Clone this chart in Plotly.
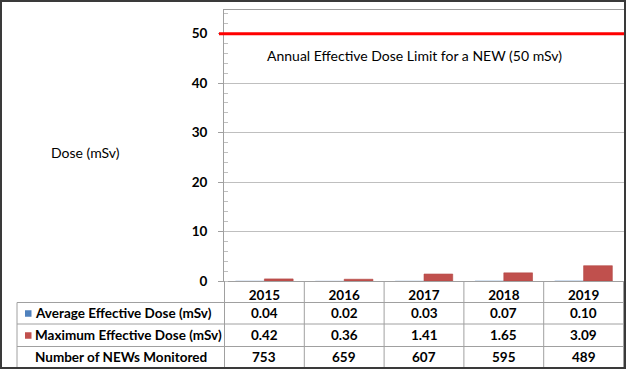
import plotly.graph_objects as go

years = ["2015", "2016", "2017", "2018", "2019"]
avg_dose = [0.04, 0.02, 0.03, 0.07, 0.10]
max_dose = [0.42, 0.36, 1.41, 1.65, 3.09]
news_monitored = [753, 659, 607, 595, 489]
dose_limit = 50
limit_label = "Annual Effective Dose Limit for a NEW (50 mSv)"
row_labels = ["Average Effective Dose (mSv)", "Maximum Effective Dose (mSv)", "Number of NEWs Monitored"]

W, H = 626, 369
L, R, T, B = 224, 2, 10, 88
PW, PH = W - L - R, H - T - B

def px(x):
    return (x - L) / PW

def py(y):
    return (H - B - y) / PH

BLUE = "#4F81BD"
RED = "#C0504D"
GRID = "#BFBFBF"
LINE = "#A0A0A0"
FONT = "Lato"

fig = go.Figure()
fig.add_bar(x=years, y=avg_dose, name=row_labels[0], marker_color=BLUE)
fig.add_bar(x=years, y=max_dose, name=row_labels[1], marker_color=RED,
            marker_line=dict(color="#B24643", width=0.6))

shapes = []
annotations = []

# red limit line
shapes.append(dict(type="line", xref="paper", yref="y", x0=px(219), x1=1, y0=dose_limit, y1=dose_limit,
                   line=dict(color="#FF0000", width=3)))
annotations.append(dict(text=limit_label, xref="paper", yref="y", x=px(414.5), y=45.5,
                        showarrow=False, font=dict(family=FONT, size=14, color="black")))
annotations.append(dict(text="Dose (mSv)", xref="paper", yref="paper", x=px(49), y=py(152),
                        xanchor="left", showarrow=False, font=dict(family=FONT, size=14, color="black")))

# table grid
row_y = [281, 302.5, 324, 346.5, 368]
for yy in row_y[1:4]:
    shapes.append(dict(type="line", xref="paper", yref="paper", x0=px(17), x1=1, y0=py(yy), y1=py(yy),
                       line=dict(color=LINE, width=1)))
shapes.append(dict(type="line", xref="paper", yref="paper", x0=px(17), x1=px(17), y0=py(302.5), y1=py(368),
                   line=dict(color=LINE, width=1)))
for i in range(len(years) + 1):
    shapes.append(dict(type="line", xref="x", yref="paper", x0=i - 0.5, x1=i - 0.5, y0=0, y1=py(368),
                       line=dict(color=LINE, width=1)))

# row labels with legend keys
row_centers = [(row_y[k] + row_y[k + 1]) / 2 for k in range(1, 4)]
for k, lab in enumerate(row_labels):
    annotations.append(dict(text="<b>%s</b>" % lab, xref="paper", yref="paper", x=px(33), y=py(row_centers[k]),
                            xanchor="left", yanchor="middle", showarrow=False,
                            font=dict(family=FONT, size=13.5, color="black")))
for k, col in enumerate([BLUE, RED]):
    c = row_centers[k]
    shapes.append(dict(type="rect", xref="paper", yref="paper", x0=px(25), x1=px(31.5), y0=py(c + 3.5), y1=py(c - 3),
                       fillcolor=col, line=dict(width=0)))

rows = [["%.2f" % v for v in avg_dose], ["%.2f" % v for v in max_dose], [str(v) for v in news_monitored]]
for k, vals in enumerate(rows):
    for i, v in enumerate(vals):
        annotations.append(dict(text="<b>%s</b>" % v, xref="x", yref="paper", x=i, y=py(row_centers[k]),
                                yanchor="middle", showarrow=False,
                                font=dict(family=FONT, size=13.5, color="black")))

# outer border
shapes.append(dict(type="rect", xref="paper", yref="paper", x0=px(1), x1=px(625), y0=py(1), y1=py(368),
                   line=dict(color="#3A3A3A", width=2), fillcolor="rgba(0,0,0,0)", layer="above"))

fig.update_layout(
    width=W, height=H,
    margin=dict(l=L, r=R, t=T, b=B, pad=0),
    paper_bgcolor="white", plot_bgcolor="white",
    barmode="group", bargap=0.28, bargroupgap=0,
    showlegend=False,
    shapes=shapes, annotations=annotations,
    font=dict(family=FONT, size=13, color="black"),
    xaxis=dict(showline=True, linecolor=LINE, linewidth=1, mirror=True, ticks="", showgrid=False,
               tickfont=dict(family=FONT, size=13.5, color="black", weight="bold"), ticklabelstandoff=2),
    yaxis=dict(range=[0, 54.8], dtick=10, showline=True, linecolor=LINE, linewidth=1, mirror=True,
               ticks="outside", ticklen=5, tickcolor=LINE, showgrid=True, gridcolor=GRID, zeroline=False,
               tickfont=dict(family=FONT, size=13.5, color="black", weight="bold"), ticklabelstandoff=8,
               minor=dict(dtick=2, ticks="inside", ticklen=4, tickcolor=GRID, showgrid=False)),
)

fig.write_html("out.html", config={"displayModeBar": False},
               post_script="document.body.style.margin='0';document.body.style.overflow='hidden';")
